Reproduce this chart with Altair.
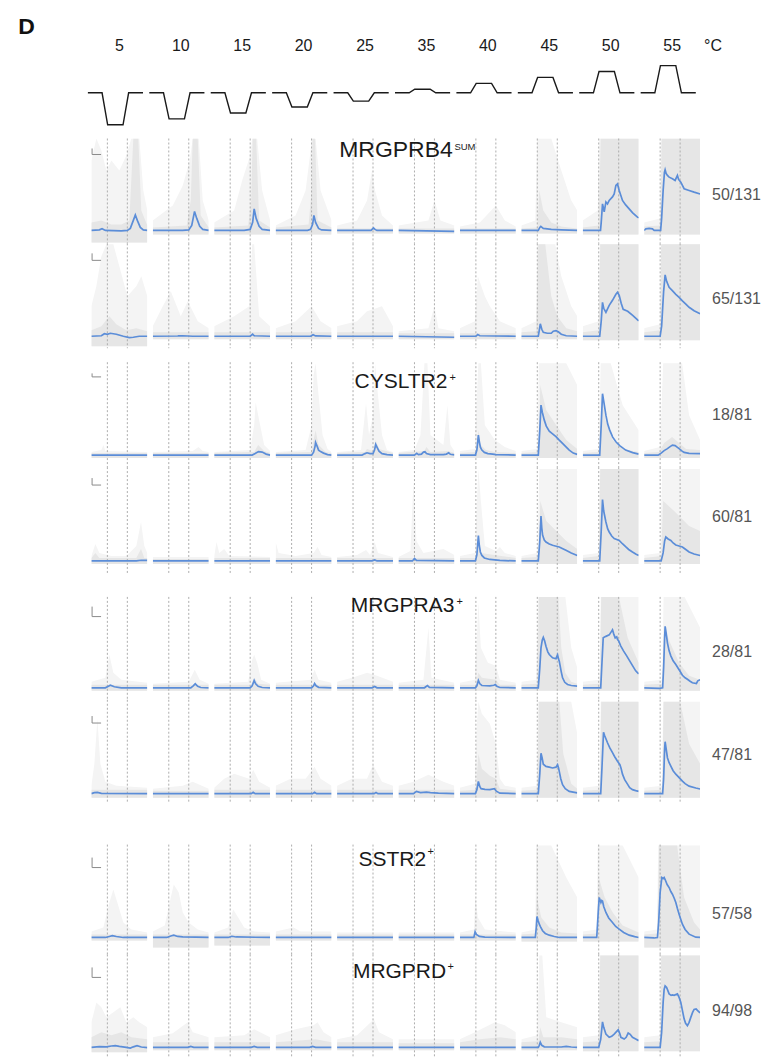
import altair as alt
import pandas as pd

FONT = "Liberation Sans"

# ---------------- data ----------------
TEMPS = [5, 10, 15, 20, 25, 35, 40, 45, 50, 55]
BASE_TEMP = 32
STIM_T = [-3.5, 10.7, 16.3, 31.7, 37.3, 51.7]      # s, stimulus protocol knots
DASH_T = [16, 36]                                   # s, stimulus on / off
FRACTIONS = ["50/131", "65/131", "18/81", "60/81", "28/81", "47/81", "57/58", "94/98"]
GROUP_NAMES = ["MRGPRB4", "CYSLTR2", "MRGPRA3", "SSTR2", "MRGPRD"]
GROUP_SUP = ["SUM", "+", "+", "+", "+"]
GROUP_ROW = [0, 2, 4, 6, 7]
BAR_T = 9                                           # s, scale bar
BAR_V = [6, 7, 3.5, 7, 10, 7, 10, 10]               # scale bar height per row

# mean traces (blue): (time s, dF/F a.u.)
BLUE_R1 = [
    [(0,0),(8,0.5),(10.7,1.7),(14,0),(30,-0.5),(36,0),(39,2),(42,10),(44,15.5),(46,10),(49,3),(52,0.5),(56,0)],
    [(0,0),(30,0),(36,0.5),(39,5),(41.8,19),(44,12),(47,4),(50,1),(56,0)],
    [(0,0),(30,0),(36,1),(38.5,8),(40,21.5),(42,12),(45,4),(48,1),(56,0)],
    [(0,0),(32,0),(35,1),(37,6),(38.3,15),(40,8),(43,2),(46,0.5),(56,0)],
    [(0,0),(34,0),(36.5,2.5),(38,1),(40,0),(56,0)],
    [(0,0),(56,-1)],
    [(0,0),(56,0)],
    [(0,0),(17,0),(18.5,3),(19.5,4),(22,2),(30,1),(40,0.5),(56,0)],
    [(0,0),(17.8,0),(18.5,8),(19.8,26.5),(21.5,18.5),(23.2,28.5),(24.8,26.5),(26.5,30),(29.8,33.5),(31.5,36.5),(33.2,45),(34.8,46.5),(36.5,40),(39.8,30),(43,25.5),(46.5,21.5),(50,17.5),(54.8,13.3),(56,12.5)],
    [(0,0),(1.7,1.5),(5,2),(8.3,1.5),(10,0),(16.5,0),(17.5,12),(19,40),(20.3,58),(21,60.7),(22,57),(23.3,55),(25,53.3),(28.3,51.7),(31,50),(33.3,55),(34.5,51),(36.7,48.3),(40,41.7),(45,40),(50,38.3),(56,36.5)],
]
BLUE_R2 = [
    [(0,0),(10,0.5),(13,2.5),(16,2),(19,3),(25,2),(32,0),(38,-1.3),(42,-1),(48,0),(56,0)],
    [(0,0),(25,0.3),(30,0.5),(40,0),(56,0)],
    [(0,0),(36,0),(38.5,2),(40,0.5),(56,0)],
    [(0,0),(35,0),(37.5,1.5),(40,0.3),(56,0)],
    [(0,0),(56,0)],
    [(0,0),(56,-1)],
    [(0,0),(16,0),(17.8,1.7),(20,0.5),(56,0)],
    [(0,0),(17,0),(18,6),(19,12.5),(20.5,7),(22,4),(26,3),(30,3),(32,5),(34.7,5.7),(37,4.5),(40,2),(45,0.5),(56,0)],
    [(0,0),(17,0),(18.5,15),(19.8,34),(21,28),(23.2,24),(26.5,31),(29.8,36),(33.2,42),(34.8,44),(36.5,41),(38.5,33),(40.5,27),(45,25),(50,21),(56,15.5)],
    [(0,0),(16,0),(17.5,10),(19.5,45),(21,61.5),(22.5,55),(25,49),(28,46),(31.7,42),(35,39),(38.3,35.5),(42,32),(45,29),(50,25.5),(56,22.5)],
]
BLUE_R3 = [
    [(0,0),(56,0)],
    [(0,0),(56,0)],
    [(0,0),(38,0),(41,1.5),(44.3,3.5),(48,3),(52,1),(56,0)],
    [(0,0),(36,0),(38,3),(39.5,9),(40,12.7),(41.5,9),(43,5),(45,3.5),(48,2),(52,0.5),(56,0)],
    [(0,0),(25,0),(28,1.5),(30,2.3),(33,1.5),(36,1.5),(37.5,5),(38.7,10.7),(40,8),(42,4),(45,1.5),(50,0.5),(56,0)],
    [(0,0),(16,0),(18.3,1.7),(20,0.5),(23,1),(25,3),(26.5,3.3),(28,1.5),(32,0.5),(45,0.5),(48,1),(50.3,2.3),(52,0.8),(56,0.3)],
    [(0,0),(15.5,0),(17,5),(18.5,20),(19.5,13),(20.5,8),(22,5),(24.5,2.7),(28,1.5),(33,1),(36,0.5),(56,0)],
    [(0,0),(17,0),(18.5,25),(19.7,50),(21,43),(23,35),(25,29),(28,24),(31,21.5),(34.7,18.5),(38,15),(41.3,11.7),(45,8),(48,5),(52,2),(56,0.7)],
    [(0,0),(17,0),(18.5,30),(19.8,61.5),(21,54),(23.2,40),(25,31),(27,25),(30,18),(33.2,13.3),(37,9.5),(43,5),(50,2.5),(56,1)],
    [(0,0),(14,0),(17,2),(20,4.5),(23.3,6.5),(26,8.5),(28.3,10),(31,9.5),(33,8),(35,6.5),(38,4),(40,2.7),(45,1.7),(56,1.5)],
]
BLUE_R4 = [
    [(0,0),(45,0),(50,0.7),(56,0.5)],
    [(0,0),(56,0)],
    [(0,0),(56,0)],
    [(0,0),(56,0)],
    [(0,0),(35,0),(37.7,1),(40,0),(56,0)],
    [(0,0),(14,0),(16,2.4),(18,0.5),(56,0)],
    [(0,0),(15.5,0),(17,6),(18.5,25.5),(19.5,15),(20.5,9),(22,5.5),(24.5,3),(30,1.5),(40,0.5),(56,0)],
    [(0,0),(17,0),(18.5,20),(19.7,45),(20.5,33),(21.3,26),(23,21),(24.7,19),(28,17),(31.3,15.7),(34,15),(38,14),(41,12.5),(44.7,10.7),(50,8),(56,5.5)],
    [(0,0),(17,0),(18.5,30),(19.8,61.5),(21,50),(23.2,39),(25,32),(26.5,29),(29,25),(31.5,22.5),(34,21.5),(36.5,20.5),(40,17),(43.2,14),(46,11.5),(49.8,9),(53,7),(56,5.5)],
    [(0,0),(17,0),(19,8),(20.5,20),(21.7,24),(24,22),(26.7,20.5),(29,18),(31.7,16),(35,15),(38.3,14),(41,12),(45,9),(50,7),(56,5.5)],
]
BLUE_R5 = [
    [(0,0),(14,0),(17,1.5),(19,2.5),(23,1),(30,0),(56,0)],
    [(0,0),(38,0),(40.5,2),(42.5,4),(45,1.5),(48,0.3),(56,0)],
    [(0,0),(36,0),(38,2),(40,7.3),(41.5,4),(44,1.5),(48,0.3),(56,0)],
    [(0,0),(36,0),(38,2),(39,4.3),(40.5,2),(43,0.5),(56,0)],
    [(0,0),(35,0),(37.7,1.3),(40,0),(56,0)],
    [(0,0),(26,0),(29,2.3),(31,0.5),(56,0)],
    [(0,0),(15.5,0),(17,2),(18.5,7.3),(20,4),(22,2.3),(30,2),(34,2.5),(35.5,3.3),(37,1.5),(40,0.3),(56,0)],
    [(0,0),(17,0),(18.5,20),(19.7,40),(21,48),(22,50.5),(23.3,47),(24.7,41.7),(26.5,36),(28,33.3),(31.3,30),(34.7,29),(35.8,32),(36.3,33),(37.2,29),(38,26.7),(40,16),(41.3,10),(43.5,5.5),(46.3,3.3),(50,2.3),(56,1.7)],
    [(0,0),(18,0),(19,20),(20.5,50),(23.2,51.5),(26.5,53),(28.5,56),(29.8,58),(31,54),(32.5,50),(34,51),(34.8,48.5),(36,47),(38,42),(40.8,37),(44,32),(47,27),(50,22),(53,17),(56,14)],
    [(0,0),(15,-0.5),(18.5,0),(19.5,20),(20.5,50),(21,61.5),(22,55),(23.3,45),(25,37),(26.7,32),(29,27),(31.7,23.3),(35,18),(38.3,12.5),(41,10),(43.3,8.5),(46,6.5),(48.3,5),(52.3,4.3),(53.7,7),(56,8)],
]
BLUE_R6 = [
    [(0,0),(3,1),(6,1.3),(10,0.3),(56,0)],
    [(0,0),(56,0)],
    [(0,0),(37,0),(39,1.3),(41,0),(56,0)],
    [(0,0),(37,0),(39,1.3),(41,0),(56,0)],
    [(0,0),(37,0),(39,1.2),(41,0),(56,0)],
    [(0,0),(15,0),(18,2.3),(22,1),(28,1.5),(32,1),(40,0.5),(56,0)],
    [(0,0),(15.5,0),(17,4),(18.5,12.3),(20,7),(21.2,5),(25,4.3),(30,4),(34.5,5),(36.5,2.5),(40,0.5),(56,0)],
    [(0,0),(17,0),(18.5,20),(19.7,40.5),(20.8,36),(22,29.5),(24.7,27.3),(28,26.5),(31.3,25.7),(34.7,26.5),(36.3,29),(37.2,26),(38,22.3),(39.5,15),(41.3,9),(44,5),(48,2.3),(56,0.7)],
    [(0,0),(18,0),(19.2,25),(20.8,61.5),(22,58),(24.8,51),(27,46),(29.8,41),(32,37),(34.8,32.5),(37.2,29),(38.5,25),(39.8,19.5),(42,14),(44.8,9.5),(47,6),(49.8,4),(53,3),(56,2.3)],
    [(0,0),(18.5,0),(19.5,15),(20.5,45),(21,52),(22,45),(23.3,36),(25,31),(26.7,27.5),(29,23),(31.7,19.5),(35,16),(38.3,12.5),(41,10),(45,7.5),(51.7,5.7),(56,4.7)],
]
BLUE_R7 = [
    [(0,0),(14,0),(18,1),(21,1.8),(25,1),(32,0),(56,0)],
    [(0,0),(14,0),(18,1.5),(21,2.3),(25,1),(30,0.5),(56,0)],
    [(0,0),(14,0),(17.7,1.2),(22,0.5),(56,0)],
    [(0,0),(56,0)],
    [(0,0),(56,0)],
    [(0,0),(56,0)],
    [(0,0),(14,0),(15.2,5.7),(16.5,3),(19.5,1),(25,0.3),(56,0)],
    [(0,0),(14,0),(15,10),(15.7,21),(16.8,17),(18,13.3),(19.5,10),(21.3,6.7),(24,4),(28,2.3),(33,1),(38,0),(56,0)],
    [(0,0),(14,0),(15.5,25),(16.5,40),(17.5,37),(18.2,35),(19,37),(19.8,36.5),(21,31),(23.2,25),(26,19.5),(29.8,15),(33,11),(36.5,8.3),(41,5),(46.5,2.3),(52,0.8),(56,0)],
    [(0,0),(10,-0.5),(13.3,0),(14.5,15),(16,45),(17.7,60),(19,59),(20,60),(21,58),(23,53),(25,50),(26.7,46),(28.3,43.3),(30,39.5),(31.7,35),(33.3,29),(35,23.3),(36.7,18),(38.3,13.3),(41,8),(45,3.3),(51.7,0.3),(56,0)],
]
BLUE_R8 = [
    [(0,0),(8,0.7),(15,0.5),(20,1.3),(24,1.7),(28,1),(35,0),(39,-0.7),(42,0.5),(45.7,1.7),(50,0.3),(56,-0.3)],
    [(0,0),(35,0),(38,1),(41,0),(56,0)],
    [(0,0),(37,0),(40,1),(43,0),(56,0)],
    [(0,0),(34,0),(37,1),(40,0),(56,0)],
    [(0,0),(56,0)],
    [(0,0),(56,0)],
    [(0,0),(56,0)],
    [(0,0),(17,0),(18,2),(19,5),(20.5,2),(23,0.5),(40,0.3),(45,1),(50,0.3),(56,0)],
    [(0,0),(16,0),(18,8),(19.8,25.5),(21,20),(23.2,13.3),(26.5,10),(29,11),(31.5,13.3),(34,16),(35.5,17.5),(37,14),(38.2,10),(41.5,8.3),(43.5,10),(45.5,14.3),(47.5,13),(49.8,10),(53,8.3),(56,6.7)],
    [(0,0),(16,0),(17.5,15),(19,45),(20,58),(21,61.5),(22.5,60),(25,53.5),(27,52),(28.3,52.5),(30,52),(33.3,53.5),(35,50),(36.7,45),(38.5,36),(40,28.5),(41.5,24),(43.3,21.7),(45,25),(46.7,30),(48.5,35),(50,38),(52,38.5),(53.3,37),(56,34.5)],
]

# single-cell traces (grey): sparse upper envelope, dense upper envelope, lower envelope
HI_R1 = [
    [(0,70),(5,92),(10,80),(15,60),(20,70),(28,60),(35,75),(40,92),(48,92),(52,40),(56,20)],
    [(0,10),(20,25),(30,45),(37,70),(40,92),(46,92),(50,30),(56,10)],
    [(0,8),(20,20),(28,50),(36,75),(38,92),(43,92),(48,40),(56,10)],
    [(0,5),(20,15),(30,40),(35,80),(36,92),(40,92),(45,40),(56,10)],
    [(0,5),(20,10),(30,30),(35,60),(38,40),(45,15),(56,5)],
    [(0,5),(30,10),(36,30),(42,10),(56,5)],
    [(0,4),(20,8),(36,25),(45,10),(56,4)],
    [(0,5),(14,10),(16,92),(30,92),(40,60),(50,30),(56,20)],
    [(0,10),(15,20),(16.5,92),(56,92)],
    [(0,8),(16,12),(17,92),(56,92)],
]
CORE_R1 = [
    [(0,8),(10,10),(20,6),(30,6),(38,10),(42,92),(47,92),(50,20),(56,5)],
    [(0,3),(34,5),(38,30),(40,92),(45,92),(48,15),(56,3)],
    [(0,3),(34,5),(37,30),(38.5,92),(42,92),(45,10),(56,3)],
    [(0,3),(33,6),(36,40),(37,92),(39.5,92),(42,10),(56,3)],
    [(0,2),(56,2)],
    [(0,2),(56,2)],
    [(0,2),(56,2)],
    [(0,2),(16,3),(18,40),(22,20),(30,8),(40,4),(56,2)],
    [(0,3),(16,5),(18,92),(56,92)],
    [(0,4),(16,5),(17.5,92),(56,92)],
]
LO_R1 = [-12, -4, -4, -4, -3, -3, -3, -3, -4, -4]

HI_R2 = [
    [(0,30),(5,50),(10,80),(15,92),(22,92),(28,70),(36,40),(45,50),(50,60),(56,40)],
    [(0,10),(10,30),(18,45),(28,20),(35,35),(45,15),(56,8)],
    [(0,10),(20,20),(35,30),(38,92),(40,92),(45,20),(56,10)],
    [(0,8),(20,15),(36,30),(45,15),(56,8)],
    [(0,10),(20,15),(30,25),(45,30),(56,10)],
    [(0,5),(30,8),(36,30),(40,8),(56,5)],
    [(0,8),(15,15),(18,60),(25,40),(30,30),(40,15),(56,8)],
    [(0,8),(15,15),(16,92),(34,92),(40,60),(50,30),(56,20)],
    [(0,10),(16,15),(17,92),(56,92)],
    [(0,8),(16,12),(17,92),(56,92)],
]
CORE_R2 = [
    [(0,6),(10,10),(18,20),(25,12),(35,6),(45,8),(56,5)],
    [(0,4),(56,4)],
    [(0,4),(56,4)],
    [(0,4),(56,4)],
    [(0,4),(56,4)],
    [(0,3),(56,3)],
    [(0,3),(56,3)],
    [(0,4),(15,5),(17,92),(24,92),(30,40),(36,20),(45,8),(56,5)],
    [(0,4),(16,6),(17.5,92),(56,92)],
    [(0,4),(16,6),(17,92),(56,92)],
]
LO_R2 = [-10, -3, -3, -3, -3, -3, -3, -3, -4, -4]

HI_R3 = [
    [(0,3),(10,5),(12,10),(14,4),(56,3)],
    [(0,3),(40,4),(45.8,8),(50,4),(56,3)],
    [(0,3),(36,5),(40,30),(41.5,53),(45,35),(50,10),(56,4)],
    [(0,3),(30,5),(36,30),(38,80),(40,92),(43,60),(47,20),(52,6),(56,3)],
    [(0,3),(24,5),(29,52),(32,20),(36,40),(38,92),(41,60),(45,20),(50,5),(56,3)],
    [(0,3),(16,5),(22,20),(26,92),(29,92),(32,20),(45,10),(49,50),(52,10),(56,4)],
    [(0,4),(15,6),(17,60),(18.5,92),(21,92),(25,30),(35,15),(45,8),(56,4)],
    [(0,4),(16,6),(17.5,92),(45,92),(56,70)],
    [(0,4),(16,6),(18,92),(28,92),(40,50),(56,25)],
    [(0,4),(16,8),(19,92),(38,92),(45,40),(56,15)],
]
CORE_R3 = [
    [(0,2),(56,2)],
    [(0,2),(56,2)],
    [(0,2),(40,3),(44,10),(50,4),(56,2)],
    [(0,2),(36,3),(38,15),(40,25),(43,10),(50,3),(56,2)],
    [(0,2),(28,3),(30,6),(36,4),(38.7,15),(42,6),(56,2)],
    [(0,2),(26,4),(28,8),(32,3),(50,4),(56,2)],
    [(0,2),(16,3),(18.5,25),(21,10),(26,5),(35,3),(56,2)],
    [(0,2),(17,3),(19,70),(25,45),(35,30),(45,15),(56,6)],
    [(0,2),(17,3),(19,60),(23,35),(30,15),(40,6),(56,3)],
    [(0,2),(15,3),(20,12),(28,18),(35,12),(42,6),(56,5)],
]
LO_R3 = [-3, -3, -3, -3, -3, -3, -3, -3, -3, -3]

HI_R4 = [
    [(0,5),(4,17),(8,8),(20,5),(35,5),(45,15),(49.7,39),(53,15),(56,8)],
    [(0,4),(56,4)],
    [(0,5),(2.3,19),(5,8),(10,12),(15,5),(56,4)],
    [(0,19),(3,8),(20,5),(38,8),(42,14),(46,6),(56,4)],
    [(0,4),(20,6),(29,11),(33,6),(37.7,19),(41,8),(56,4)],
    [(0,4),(12,10),(15,80),(18,20),(25,8),(45,12),(56,6)],
    [(0,5),(15,8),(17,60),(18.5,92),(21,60),(25,15),(36,10),(40,14),(45,8),(56,5)],
    [(0,5),(16,8),(18,92),(56,92)],
    [(0,6),(16,8),(17,92),(56,92)],
    [(0,6),(16,8),(18,92),(56,92)],
]
CORE_R4 = [
    [(0,3),(4,8),(8,3),(45,3),(49.7,12),(53,3),(56,3)],
    [(0,2),(56,2)],
    [(0,3),(56,3)],
    [(0,3),(56,3)],
    [(0,3),(56,3)],
    [(0,3),(56,3)],
    [(0,3),(16,3),(18.5,20),(21,8),(56,3)],
    [(0,3),(17,4),(19,60),(25,40),(35,30),(45,20),(56,12)],
    [(0,3),(16,5),(17.5,92),(56,92)],
    [(0,3),(17,5),(19,60),(30,50),(45,35),(56,30)],
]
LO_R4 = [-3, -3, -3, -3, -3, -3, -3, -3, -3, -3]

HI_R5 = [
    [(0,6),(14,10),(18,33),(22,15),(30,8),(56,5)],
    [(0,4),(36,6),(42,18),(47,8),(56,4)],
    [(0,4),(34,6),(38,28),(40,33),(43,25),(47,8),(56,4)],
    [(0,5),(35,8),(39,18),(43,8),(56,5)],
    [(0,6),(15,10),(30,15),(40,12),(56,6)],
    [(0,5),(25,8),(30,60),(33,10),(56,5)],
    [(0,5),(15,8),(17,50),(18.5,86),(21,40),(28,25),(36,22),(40,8),(56,5)],
    [(0,6),(15,8),(17,92),(44,92),(50,40),(56,20)],
    [(0,6),(17,8),(18,92),(56,92)],
    [(0,6),(18,8),(19.5,92),(40,92),(56,60)],
]
CORE_R5 = [
    [(0,3),(56,3)],
    [(0,3),(56,3)],
    [(0,3),(37,3),(40,10),(44,4),(56,3)],
    [(0,3),(56,3)],
    [(0,3),(56,3)],
    [(0,3),(56,3)],
    [(0,3),(16,3),(18.5,15),(22,10),(36,8),(40,3),(56,3)],
    [(0,3),(16,4),(17.5,92),(37,92),(40,40),(44,15),(50,6),(56,4)],
    [(0,3),(17,4),(18.5,92),(36,92),(45,50),(56,25)],
    [(0,3),(18,4),(20,60),(26,45),(35,25),(45,12),(56,8)],
]
LO_R5 = [-3, -3, -3, -3, -3, -3, -3, -3, -3, -3]

HI_R6 = [
    [(0,8),(3,30),(6,75),(9,30),(14,12),(25,8),(56,6)],
    [(0,5),(30,8),(40,12),(56,5)],
    [(0,6),(10,15),(20,20),(35,15),(39,24),(45,12),(56,6)],
    [(0,8),(15,15),(30,15),(39,27),(45,15),(56,8)],
    [(0,8),(15,15),(30,15),(36,29),(45,12),(56,8)],
    [(0,8),(15,12),(30,19),(45,12),(56,8)],
    [(0,6),(15,10),(17,70),(18.5,92),(22,80),(30,70),(36,50),(40,15),(45,8),(56,6)],
    [(0,6),(16,8),(17,92),(50,92),(56,60)],
    [(0,6),(17,8),(18,92),(56,92)],
    [(0,6),(18,8),(19,92),(56,92)],
]
CORE_R6 = [
    [(0,4),(56,4)],
    [(0,3),(56,3)],
    [(0,4),(56,4)],
    [(0,4),(56,4)],
    [(0,4),(56,4)],
    [(0,4),(56,4)],
    [(0,3),(16,4),(18.5,40),(22,25),(30,18),(36,15),(40,5),(56,3)],
    [(0,3),(16,4),(17.5,92),(38,92),(42,40),(50,10),(56,5)],
    [(0,3),(17,4),(18.5,92),(56,92)],
    [(0,3),(18,4),(19.5,92),(36,92),(45,50),(56,30)],
]
LO_R6 = [-4, -4, -4, -4, -4, -4, -4, -4, -4, -4]

HI_R7 = [
    [(0,6),(12,10),(18,35),(22,48),(26,35),(32,15),(40,8),(56,5)],
    [(0,6),(12,12),(18,40),(21,53),(26,45),(30,25),(36,15),(45,8),(56,5)],
    [(0,5),(14,10),(19,28),(24,20),(30,10),(40,6),(56,5)],
    [(0,6),(18,10),(25,6),(56,6)],
    [(0,5),(56,5)],
    [(0,5),(56,5)],
    [(0,5),(14,8),(15.5,41),(18,20),(25,8),(56,5)],
    [(0,5),(14,8),(15,92),(30,92),(45,60),(56,40)],
    [(0,6),(14,8),(15,92),(40,92),(56,60)],
    [(0,6),(13,8),(14,92),(56,92)],
]
CORE_R7 = [
    [(0,3),(56,3)],
    [(0,3),(56,3)],
    [(0,3),(56,3)],
    [(0,3),(56,3)],
    [(0,3),(56,3)],
    [(0,3),(56,3)],
    [(0,3),(56,3)],
    [(0,3),(14,4),(15.5,40),(20,20),(28,10),(40,5),(56,4)],
    [(0,3),(14,4),(16,60),(22,40),(30,25),(40,12),(56,5)],
    [(0,3),(13,4),(15,92),(33,92),(40,40),(50,15),(56,8)],
]
LO_R7 = [-3, -10, -8, -3, -3, -3, -3, -4, -4, -10]

HI_R8 = [
    [(0,25),(5,45),(10,40),(15,30),(22,35),(29,40),(35,25),(42,30),(48,25),(56,20)],
    [(0,10),(20,14),(35,25),(40,15),(56,10)],
    [(0,10),(30,12),(40,18),(56,10)],
    [(0,12),(20,18),(38,22),(42,25),(48,15),(56,10)],
    [(0,8),(20,12),(37,28),(42,15),(56,8)],
    [(0,8),(56,8)],
    [(0,8),(15,15),(25,20),(35,25),(45,22),(56,15)],
    [(0,8),(16,12),(18,92),(21,92),(25,30),(40,25),(56,20)],
    [(0,10),(16,12),(17,92),(56,92)],
    [(0,10),(16,12),(17,92),(56,92)],
]
CORE_R8 = [
    [(0,10),(10,15),(20,12),(30,15),(40,10),(56,8)],
    [(0,5),(56,5)],
    [(0,5),(56,5)],
    [(0,5),(40,8),(56,5)],
    [(0,5),(56,5)],
    [(0,4),(56,4)],
    [(0,5),(20,8),(40,10),(56,8)],
    [(0,5),(17,6),(19,20),(22,10),(40,10),(56,8)],
    [(0,5),(16,6),(17.5,92),(56,92)],
    [(0,5),(16,6),(17,92),(56,92)],
]
LO_R8 = [-5, -3, -3, -3, -3, -3, -3, -3, -4, -4]

BLUE = [BLUE_R1, BLUE_R2, BLUE_R3, BLUE_R4, BLUE_R5, BLUE_R6, BLUE_R7, BLUE_R8]
HI = [HI_R1, HI_R2, HI_R3, HI_R4, HI_R5, HI_R6, HI_R7, HI_R8]
CORE = [CORE_R1, CORE_R2, CORE_R3, CORE_R4, CORE_R5, CORE_R6, CORE_R7, CORE_R8]
LO = [LO_R1, LO_R2, LO_R3, LO_R4, LO_R5, LO_R6, LO_R7, LO_R8]

# ---------------- layout / style ----------------
PANEL_W = 56
HGAP = 5.5
LEFT_W = 85.5
RIGHT_W = 58
HEADER_H = 138
ROW_H = [105, 105, 105, 106, 103, 102, 110, 102]
ROW_B = [92, 93, 93, 94, 91, 94, 93, 93]
GAP_AFTER = {1: 14, 3: 24, 5: 43}
FRAC_Y = [61.3, 61, 58, 54.7, 59.7, 60, 75, 61.7]
BAR_Y = [16, 17, 14.7, 18, 19.7, 23.3, 23, 23]
TITLE_POS = [  # main right x, main baseline, main size, sup left x, sup baseline, sup size (local to 35 °C panel)
    (54.3, 18.7, 23, 56, 12, 9.5),
    (49, 26.3, 21, 51, 18.4, 11),
    (56, 15.3, 21, 58, 8.4, 11),
    (27.7, 21.7, 21, 29, 10.4, 11),
    (47.7, 23.3, 21, 49, 15.4, 11),
]
HEADER_Y_DOMAIN = [-6.6, 109.8]
NCOL = 12

C_BLUE = "#5b8dd8"
C_CORE = "#e6e6e6"
C_LIGHT = "#f4f4f4"
C_DASH = "#adadad"
C_BAR = "#8a8a8a"
C_TEXT = "#1a1a1a"
C_FRAC = "#555555"


def blank(w, h):
    return (alt.Chart(pd.DataFrame({"a": [0]}))
            .mark_point(opacity=0, size=1)
            .encode(x=alt.value(w / 2), y=alt.value(h / 2))
            .properties(width=w, height=h))


def txt(s, x, y, size, align="left", color=C_TEXT, weight="normal"):
    return (alt.Chart(pd.DataFrame({"lab": [s]}))
            .mark_text(font=FONT, fontSize=size, align=align, baseline="alphabetic",
                       color=color, fontWeight=weight)
            .encode(text="lab:N", x=alt.value(x), y=alt.value(y)))


def panel(r, c):
    H, B = ROW_H[r], ROW_B[r]
    xs = alt.Scale(domain=[0, PANEL_W])
    ys = alt.Scale(domain=[B - H, B])
    X = alt.X("t:Q", scale=xs, axis=None)
    Y = alt.Y("v:Q", scale=ys, axis=None)
    light = pd.DataFrame(HI[r][c], columns=["t", "v"]).assign(lo=LO[r][c])
    core = pd.DataFrame(CORE[r][c], columns=["t", "v"]).assign(lo=LO[r][c])
    blue = pd.DataFrame(BLUE[r][c], columns=["t", "v"])
    layers = [
        alt.Chart(light).mark_area(color=C_LIGHT, clip=True).encode(x=X, y=Y, y2="lo:Q"),
        alt.Chart(core).mark_area(color=C_CORE, clip=True).encode(x=X, y=Y, y2="lo:Q"),
        alt.Chart(pd.DataFrame({"t": DASH_T})).mark_rule(color=C_DASH, strokeDash=[2, 2], strokeWidth=1)
           .encode(x=X),
        alt.Chart(blue).mark_line(color=C_BLUE, strokeWidth=1.7, clip=True).encode(x=X, y=Y),
    ]
    if c == 0:
        vb = B - BAR_Y[r]
        bar = pd.DataFrame({"t": [0.7, 0.7], "t2": [0.7, 0.7 + BAR_T],
                            "v": [vb, vb], "v2": [vb + BAR_V[r], vb]})
        layers.append(alt.Chart(bar).mark_rule(color=C_BAR, strokeWidth=1)
                      .encode(x=X, x2="t2:Q", y=Y, y2="v2:Q"))
    if c == 5 and r in GROUP_ROW:
        g = GROUP_ROW.index(r)
        mx, my, ms, sx, sy, ss = TITLE_POS[g]
        layers.append(txt(GROUP_NAMES[g], mx, my, ms, align="right"))
        layers.append(txt(GROUP_SUP[g], sx, sy, ss, align="left"))
    return alt.layer(*layers).properties(width=PANEL_W, height=H)


def header_panel(c):
    T = TEMPS[c]
    stim = pd.DataFrame({"t": STIM_T, "temp": [BASE_TEMP, BASE_TEMP, T, T, BASE_TEMP, BASE_TEMP]})
    line = (alt.Chart(stim).mark_line(color="#1a1a1a", strokeWidth=1.4)
            .encode(x=alt.X("t:Q", scale=alt.Scale(domain=[0, PANEL_W]), axis=None),
                    y=alt.Y("temp:Q", scale=alt.Scale(domain=HEADER_Y_DOMAIN), axis=None)))
    return alt.layer(txt(str(T), 28, 50, 16, align="center"), line).properties(
        width=PANEL_W, height=HEADER_H)


cells = []
cells.append(txt("D", 18.3, 33.3, 23, weight="bold", color="#111111")
             .properties(width=LEFT_W, height=HEADER_H))
cells += [header_panel(c) for c in range(10)]
cells.append(txt("°C", 7.5, 50, 16, align="center").properties(width=RIGHT_W, height=HEADER_H))

for r in range(8):
    H = ROW_H[r]
    cells.append(blank(LEFT_W, H))
    cells += [panel(r, c) for c in range(10)]
    cells.append(txt(FRACTIONS[r], 6.5, FRAC_Y[r], 16, color=C_FRAC)
                 .properties(width=RIGHT_W, height=H))
    if r in GAP_AFTER:
        g = GAP_AFTER[r]
        cells += [blank(LEFT_W, g)] + [blank(PANEL_W, g) for _ in range(10)] + [blank(RIGHT_W, g)]

chart = (alt.concat(*cells, columns=NCOL, spacing={"row": 0, "column": HGAP}, bounds="flush")
         .resolve_scale(x="independent", y="independent")
         .properties(padding=0, background="white")
         .configure_view(stroke=None))

chart.save("out.html", embed_options={"renderer": "svg", "actions": False})
